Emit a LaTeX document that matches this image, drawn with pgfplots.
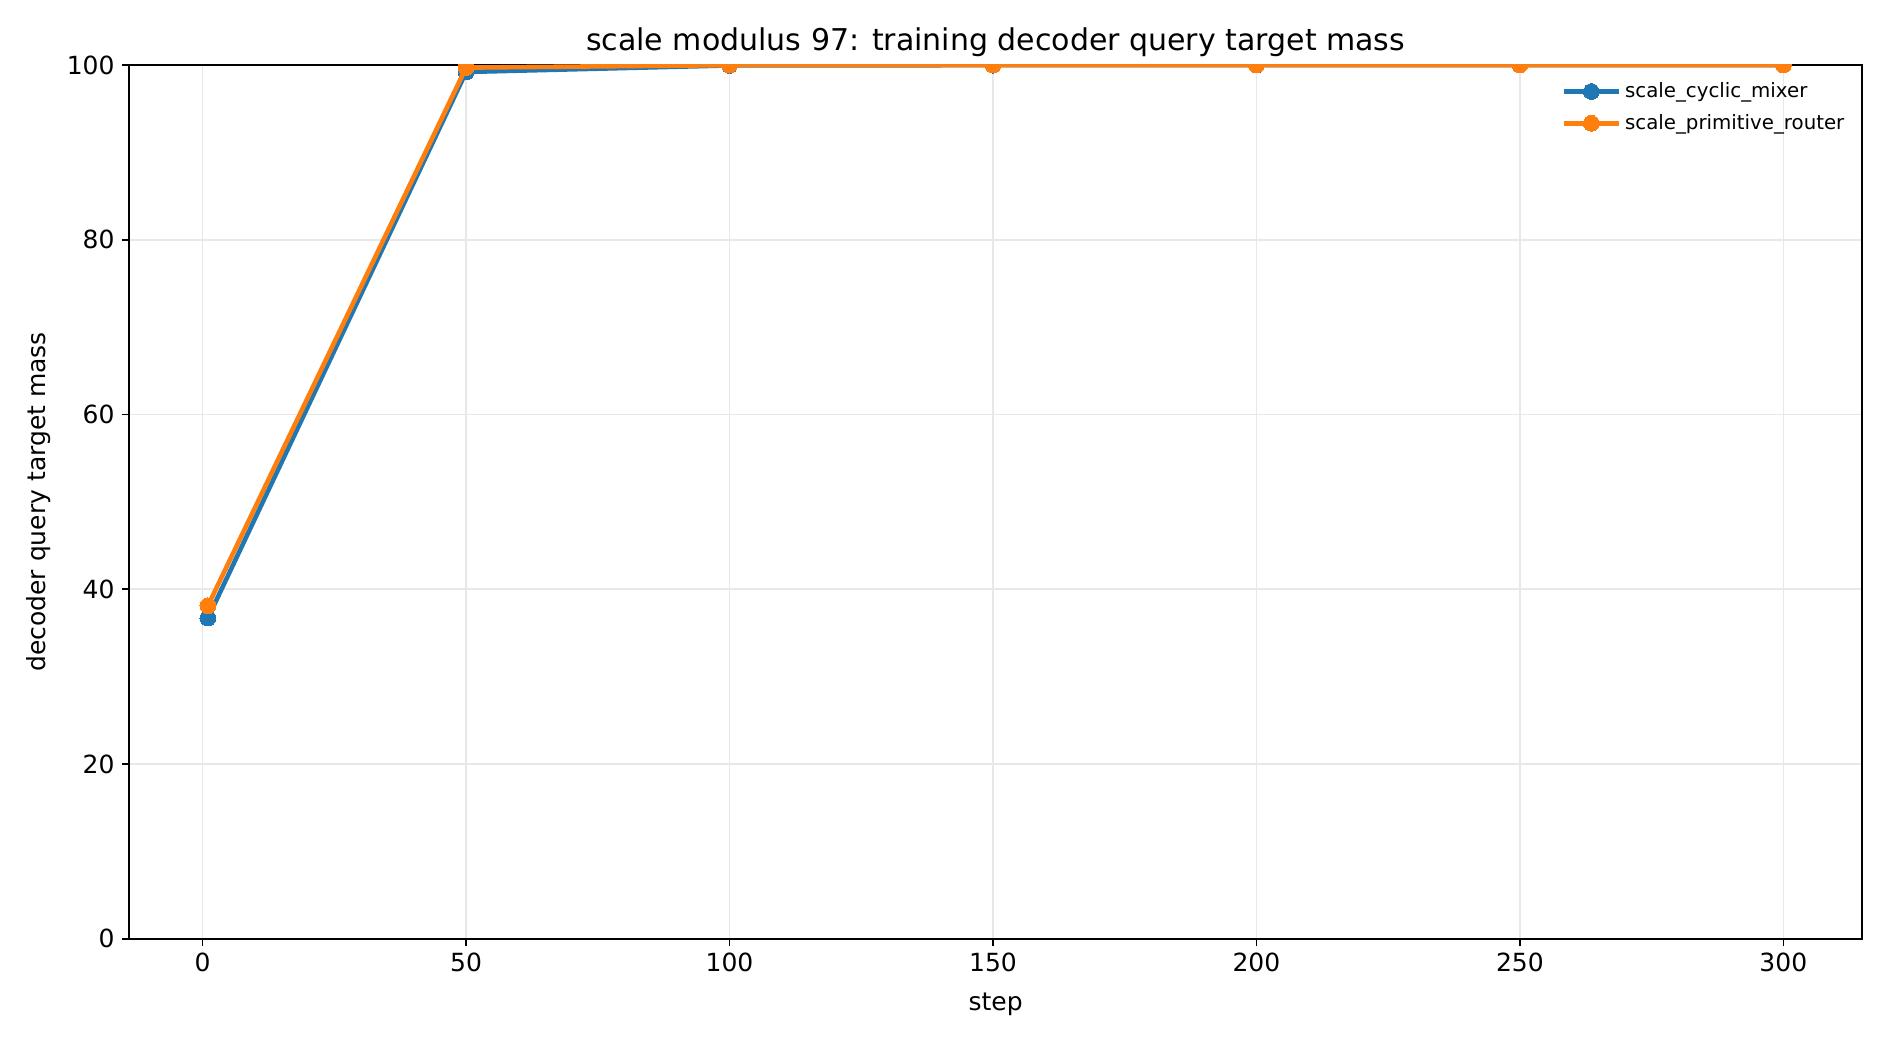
\documentclass[border=0pt]{standalone}
\usepackage{pgfplots}
\pgfplotsset{compat=1.18}
\usepackage{fontspec}
\setmainfont{DejaVu Sans}
\definecolor{mblue}{HTML}{1F77B4}
\definecolor{morange}{HTML}{FF7F0E}
\begin{document}
\begin{tikzpicture}
\begin{axis}[
  at={(0,0)}, anchor=south west,
  scale only axis,
  width=832pt, height=419.5pt,
  xmin=-13.95, xmax=314.95,
  ymin=0, ymax=100,
  xtick={0,50,100,150,200,250,300},
  ytick={0,20,40,60,80,100},
  tick align=outside,
  tick pos=left,
  major tick length=3.5pt,
  every tick/.style={black, line width=0.8pt},
  axis line style={line width=0.8pt},
  grid=major,
  major grid style={color=black!9, line width=0.8pt},
  /pgf/number format/assume math mode=true,
  ticklabel style={font=\fontsize{12}{14}\selectfont},
  xlabel={step},
  ylabel={decoder query target mass},
  label style={font=\fontsize{12}{14}\selectfont},
  xlabel style={at={(0.5,0)}, anchor=center, yshift=-31.5pt},
  ylabel style={at={(0,0.5)}, anchor=center, yshift=43.5pt},
  title={scale modulus 97: training decoder query target mass},
  title style={font=\fontsize{14.4}{17}\selectfont, at={(0.5,1)}, anchor=center, yshift=5pt},
  clip marker paths=true,
  legend style={at={(0.996,0.99)}, anchor=north east, draw=none, fill=none,
    font=\fontsize{9.5}{11}\selectfont, row sep=2.5pt,
    legend cell align=left},
  legend image code/.code={
    \draw[mark repeat=2,mark phase=2] plot coordinates {(0cm,0cm) (0.46cm,0cm) (0.92cm,0cm)};
  },
]
\addplot[color=mblue, line width=2.2pt, mark=*, mark size=3.8pt, mark options={solid, line width=0pt, fill=mblue}]
  coordinates {(1,36.7) (50,99.2) (100,99.95) (150,99.98) (200,99.99) (250,100) (300,100)};
\addlegendentry{scale\_cyclic\_mixer}
\addplot[color=morange, line width=2.2pt, mark=*, mark size=3.8pt, mark options={solid, line width=0pt, fill=morange}]
  coordinates {(1,38.1) (50,99.7) (100,99.98) (150,99.99) (200,100) (250,100) (300,100)};
\addlegendentry{scale\_primitive\_router}
\end{axis}
\pgfresetboundingbox
\path (-62pt,-50.4pt) rectangle (845.4pt,450.7pt);
\end{tikzpicture}
\end{document}
